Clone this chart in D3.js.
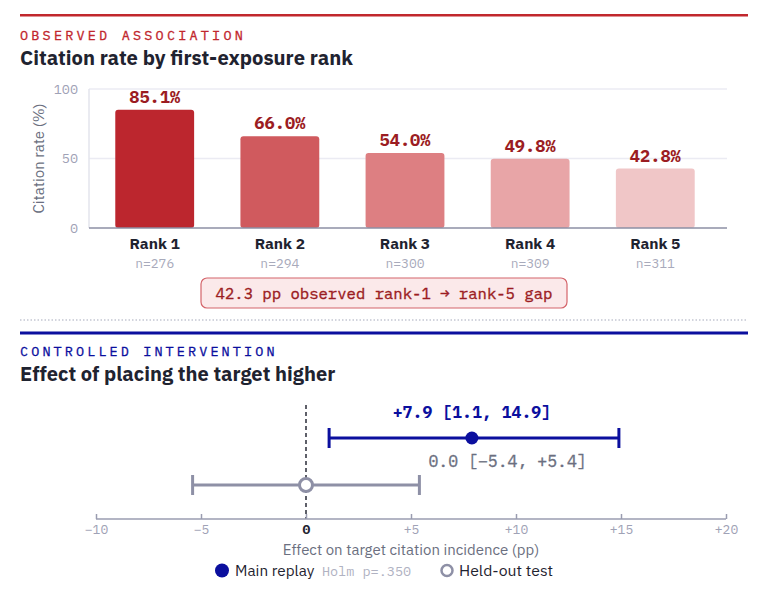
<!DOCTYPE html>
<html>
<head>
<meta charset="utf-8">
<script src="https://cdn.jsdelivr.net/npm/d3@7"></script>
<style>
  body { margin: 0; background: #fff; }
  .sans { font-family: "IBM Plex Sans", Roboto, "Noto Sans", sans-serif; }
  .mono { font-family: "IBM Plex Mono", "DejaVu Sans Mono", monospace; }
</style>
</head>
<body>
<div id="chart"></div>
<script>
const width = 768,
  height = 594;

// observed association
const ranks = ["Rank 1", "Rank 2", "Rank 3", "Rank 4", "Rank 5"];
const rates = [85.1, 66.0, 54.0, 49.8, 42.8];
const counts = [276, 294, 300, 309, 311];
const barColors = ["#bc262e", "#d05a5e", "#dd7f82", "#e8a5a7", "#f0c6c7"];
const yTicks = [0, 50, 100];
const gapText = "42.3 pp observed rank-1 \u2192 rank-5 gap";

// controlled intervention
const effects = [
  { name: "Main replay", est: 7.9, lo: 1.1, hi: 14.9, label: "+7.9 [1.1, 14.9]" },
  { name: "Held-out test", est: 0.0, lo: -5.4, hi: 5.4, label: "0.0 [\u22125.4, +5.4]" },
];
const xTicks = [-10, -5, 0, 5, 10, 15, 20];
const holmText = "Holm p=.350";

const red = "#c1272d",
  darkRed = "#9b1c22",
  blue = "#0b0f9e",
  ink = "#1f2330",
  grey = "#9fa2b6",
  midGrey = "#6b6f80";

const svg = d3
  .select("#chart")
  .append("svg")
  .attr("width", width)
  .attr("height", height);

// ---------- section 1 header ----------
svg.append("rect")
  .attr("x", 20).attr("y", 14).attr("width", 728).attr("height", 2.5)
  .attr("fill", red);

svg.append("text")
  .attr("class", "mono")
  .attr("x", 20).attr("y", 40)
  .attr("fill", red)
  .attr("stroke", red).attr("stroke-width", 0.3)
  .attr("font-size", 13.5)
  .attr("letter-spacing", 3.2)
  .text("OBSERVED ASSOCIATION");

svg.append("text")
  .attr("class", "sans")
  .attr("x", 20).attr("y", 65)
  .attr("fill", ink)
  .attr("font-size", 20.2)
  .attr("font-weight", 700)
  .text("Citation rate by first-exposure rank");

// ---------- bar chart ----------
const xBand = d3.scaleBand()
  .domain(ranks)
  .range([89, 721])
  .paddingInner(0.37)
  .paddingOuter(0.21);

const yScale = d3.scaleLinear()
  .domain([0, 100])
  .range([228, 89]);

// grid
svg.append("g")
  .selectAll("line")
  .data(yTicks.filter(d => d > 0))
  .join("line")
  .attr("x1", 89).attr("x2", 727)
  .attr("y1", d => yScale(d)).attr("y2", d => yScale(d))
  .attr("stroke", "#ebebf3")
  .attr("stroke-width", 1.5);

svg.append("line")
  .attr("x1", 89).attr("x2", 89)
  .attr("y1", yScale(100)).attr("y2", yScale(0))
  .attr("stroke", "#e3e4ec")
  .attr("stroke-width", 1.5);

const yAxis = d3.axisLeft(yScale).tickValues(yTicks).tickSize(0).tickPadding(11);
svg.append("g")
  .attr("transform", "translate(89,0)")
  .call(yAxis)
  .call(g => g.select(".domain").remove())
  .call(g => g.selectAll("text")
    .attr("class", "mono")
    .attr("font-size", 13.5)
    .attr("fill", grey));

svg.append("text")
  .attr("class", "sans")
  .attr("transform", `translate(44,${yScale(50)}) rotate(-90)`)
  .attr("text-anchor", "middle")
  .attr("fill", midGrey)
  .attr("font-size", 15)
  .text("Citation rate (%)");

svg.append("g")
  .selectAll("rect")
  .data(rates)
  .join("rect")
  .attr("x", (d, i) => xBand(ranks[i]))
  .attr("y", d => yScale(d))
  .attr("width", xBand.bandwidth())
  .attr("height", d => yScale(0) - yScale(d))
  .attr("rx", 3)
  .attr("fill", (d, i) => barColors[i]);

svg.append("line")
  .attr("x1", 89).attr("x2", 727)
  .attr("y1", yScale(0)).attr("y2", yScale(0))
  .attr("stroke", "#8c8fa4")
  .attr("stroke-width", 1.5);

svg.append("g")
  .selectAll("text")
  .data(rates)
  .join("text")
  .attr("class", "mono")
  .attr("x", (d, i) => xBand(ranks[i]) + xBand.bandwidth() / 2)
  .attr("y", d => yScale(d) - 7)
  .attr("text-anchor", "middle")
  .attr("fill", darkRed)
  .attr("font-size", 17)
  .attr("font-weight", 700)
  .text(d => d.toFixed(1) + "%");

const xAxisBars = svg.append("g");
xAxisBars.selectAll(".rank")
  .data(ranks)
  .join("text")
  .attr("class", "sans rank")
  .attr("x", d => xBand(d) + xBand.bandwidth() / 2)
  .attr("y", 249)
  .attr("text-anchor", "middle")
  .attr("fill", ink)
  .attr("font-size", 15.5)
  .attr("font-weight", 700)
  .text(d => d);

xAxisBars.selectAll(".n")
  .data(counts)
  .join("text")
  .attr("class", "mono n")
  .attr("x", (d, i) => xBand(ranks[i]) + xBand.bandwidth() / 2)
  .attr("y", 268)
  .attr("text-anchor", "middle")
  .attr("fill", "#a8aabb")
  .attr("font-size", 13)
  .text(d => "n=" + d);

// gap callout
svg.append("rect")
  .attr("x", 201).attr("y", 278).attr("width", 366).attr("height", 30)
  .attr("rx", 6)
  .attr("fill", "#fbe9ea")
  .attr("stroke", "#d4646a")
  .attr("stroke-width", 1.2);

svg.append("text")
  .attr("class", "mono")
  .attr("x", 384).attr("y", 298.5)
  .attr("text-anchor", "middle")
  .attr("fill", darkRed)
  .attr("stroke", darkRed).attr("stroke-width", 0.35)
  .attr("font-size", 15.6)
  .text(gapText);

// separator
svg.append("line")
  .attr("x1", 20).attr("x2", 748)
  .attr("y1", 320).attr("y2", 320)
  .attr("stroke", "#c4c6d2")
  .attr("stroke-width", 1.5)
  .attr("stroke-dasharray", "1.5,2");

// ---------- section 2 header ----------
svg.append("rect")
  .attr("x", 20).attr("y", 331.5).attr("width", 728).attr("height", 3)
  .attr("fill", blue);

svg.append("text")
  .attr("class", "mono")
  .attr("x", 20).attr("y", 356)
  .attr("fill", blue)
  .attr("stroke", blue).attr("stroke-width", 0.3)
  .attr("font-size", 13.5)
  .attr("letter-spacing", 3.1)
  .text("CONTROLLED INTERVENTION");

svg.append("text")
  .attr("class", "sans")
  .attr("x", 20).attr("y", 381)
  .attr("fill", ink)
  .attr("font-size", 20.1)
  .attr("font-weight", 700)
  .text("Effect of placing the target higher");

// ---------- forest plot ----------
const xEff = d3.scaleLinear()
  .domain([-10, 20])
  .range([96, 726]);

const rowY = [438, 485];
const axisY = 519;

svg.append("line")
  .attr("x1", xEff(0)).attr("x2", xEff(0))
  .attr("y1", 405).attr("y2", axisY)
  .attr("stroke", "#2a2d38")
  .attr("stroke-width", 1.5)
  .attr("stroke-dasharray", "4,3");

const xAxisEff = d3.axisBottom(xEff)
  .tickValues(xTicks)
  .tickSize(-5)
  .tickPadding(6)
  .tickFormat(d => d > 0 ? "+" + d : d < 0 ? "\u2212" + Math.abs(d) : "0");

svg.append("g")
  .attr("transform", `translate(0,${axisY})`)
  .call(xAxisEff)
  .call(g => g.select(".domain").attr("stroke", "#9a9cb0").attr("stroke-width", 1.5).attr("d", `M${xEff(-10)},0H${xEff(20)}`))
  .call(g => g.selectAll(".tick line").attr("stroke", "#9a9cb0").attr("stroke-width", 1.5))
  .call(g => g.selectAll("text")
    .attr("class", "mono")
    .attr("font-size", 13)
    .attr("fill", d => d === 0 ? ink : grey)
    .attr("font-weight", d => d === 0 ? 700 : 400));

svg.append("text")
  .attr("class", "sans")
  .attr("x", (xEff(-10) + xEff(20)) / 2).attr("y", 555)
  .attr("text-anchor", "middle")
  .attr("fill", midGrey)
  .attr("font-size", 15)
  .text("Effect on target citation incidence (pp)");

const rowColor = [blue, "#8e90a6"];
const rows = svg.append("g")
  .selectAll("g")
  .data(effects)
  .join("g")
  .attr("transform", (d, i) => `translate(0,${rowY[i]})`);

rows.append("line")
  .attr("x1", d => xEff(d.lo)).attr("x2", d => xEff(d.hi))
  .attr("stroke", (d, i) => rowColor[i])
  .attr("stroke-width", 3);

rows.selectAll(".cap")
  .data((d, i) => [d.lo, d.hi].map(v => ({ v, c: rowColor[i] })))
  .join("line")
  .attr("x1", d => xEff(d.v)).attr("x2", d => xEff(d.v))
  .attr("y1", -10).attr("y2", 10)
  .attr("stroke", d => d.c)
  .attr("stroke-width", 3);

rows.append("circle")
  .attr("cx", d => xEff(d.est))
  .attr("r", 6.5)
  .attr("fill", (d, i) => i === 0 ? blue : "#fff")
  .attr("stroke", (d, i) => rowColor[i])
  .attr("stroke-width", (d, i) => i === 0 ? 0 : 3);

rows.append("text")
  .attr("class", "mono")
  .attr("x", (d, i) => i === 0 ? xEff(d.est) : xEff(d.hi) + 9)
  .attr("y", (d, i) => i === 0 ? -20 : -18)
  .attr("text-anchor", (d, i) => i === 0 ? "middle" : "start")
  .attr("fill", (d, i) => i === 0 ? blue : midGrey)
  .attr("stroke", (d, i) => i === 0 ? "none" : midGrey)
  .attr("stroke-width", 0.35)
  .attr("font-size", 16.5)
  .attr("font-weight", (d, i) => i === 0 ? 700 : 400)
  .text(d => d.label);

// legend
const legend = svg.append("g").attr("transform", "translate(0,576)");
legend.append("circle")
  .attr("cx", 222).attr("cy", -5.5).attr("r", 7)
  .attr("fill", blue);
legend.append("text")
  .attr("class", "sans")
  .attr("x", 235).attr("y", 0)
  .attr("fill", ink)
  .attr("font-size", 15.3)
  .text(effects[0].name);
legend.append("text")
  .attr("class", "mono")
  .attr("x", 322).attr("y", 0)
  .attr("fill", "#b0b2c2")
  .attr("font-size", 13.5)
  .text(holmText);
legend.append("circle")
  .attr("cx", 447).attr("cy", -5.5).attr("r", 5.5)
  .attr("fill", "#fff")
  .attr("stroke", "#8e90a6")
  .attr("stroke-width", 2.5);
legend.append("text")
  .attr("class", "sans")
  .attr("x", 459).attr("y", 0)
  .attr("fill", ink)
  .attr("font-size", 15.8)
  .text(effects[1].name);
</script>
</body>
</html>
